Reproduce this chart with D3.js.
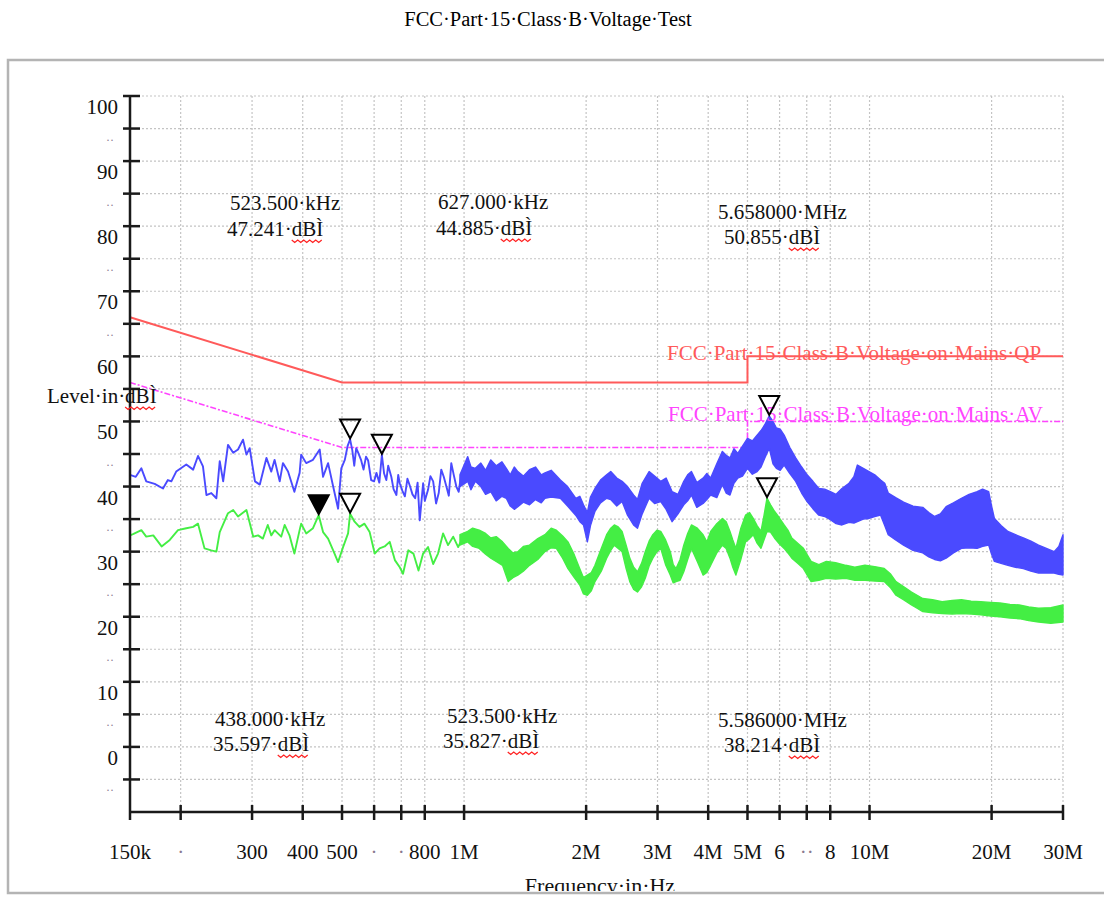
<!DOCTYPE html>
<html>
<head>
<meta charset="utf-8">
<script src="https://cdn.jsdelivr.net/npm/d3@7"></script>
<style>
  body { margin: 0; background: #fff; }
  svg { display: block; }
  text { font-family: "Liberation Serif", "Times New Roman", serif; }
</style>
</head>
<body>
<svg id="chart" width="1104" height="898"></svg>
<script>
// ---------------- data ----------------
const chartTitle = "FCC·Part·15·Class·B·Voltage·Test";
const yAxisTitle = "Level·in·dBÌ";
const xAxisTitle = "Frequency·in·Hz";

const yTickValues = [0, 10, 20, 30, 40, 50, 60, 70, 80, 90, 100];
const yMinorValues = [-5, 5, 15, 25, 35, 45, 55, 65, 75, 85, 95];

const xTickFreqs  = [150e3, 200e3, 300e3, 400e3, 500e3, 600e3, 700e3, 800e3, 1e6, 2e6, 3e6, 4e6, 5e6, 6e6, 7e6, 8e6, 10e6, 20e6, 30e6];
const xTickLabels = ["150k", "·", "300", "400", "500", "·", "·", "800", "1M", "2M", "3M", "4M", "5M", "6", "··", "8", "10M", "20M", "30M"];

// limit lines [Hz, dBµV]
const qpLimit = [[150e3, 66], [500e3, 56], [5e6, 56], [5e6, 60], [30e6, 60]];
const avLimit = [[150e3, 56], [500e3, 46], [5e6, 46], [5e6, 50], [30e6, 50]];
const qpLimitName = "FCC·Part·15·Class·B·Voltage·on·Mains·QP";
const avLimitName = "FCC·Part·15·Class·B·Voltage·on·Mains·AV";

// peak detector sweep below 1 MHz [kHz, dBµV]
const qpSweepLow = [
  [150,41.8],[155,41.5],[160,42.8],[164.5,40.8],[172.6,40.4],[180.9,39.7],[186,41.0],[189.7,40.8],
  [195,42.3],[206.5,43.4],[214.7,42.6],[220.7,44.7],[227,43.1],[231.5,38.7],[238,39.0],[245,38.2],
  [249.7,43.9],[254.6,40.8],[261.7,46.4],[269.5,45.2],[277,45.7],[285,47.2],[290.6,44.9],[296,45.9],
  [305,40.8],[313.5,40.3],[325.5,44.4],[334.6,42.3],[341,44.1],[351,40.8],[357.5,43.6],[368,42.3],
  [381.5,39.2],[393,42.1],[396.5,44.9],[408,43.6],[424,44.1],[440.5,45.7],[449,41.5],[462,43.6],
  [475.5,40.0],[489,36.6],[498,42.8],[508,44.1],[516,46.2],[523.5,47.24],[530,45.6],[536,43.2],
  [542,45.9],[548,45.2],[557,44.1],[565,42.6],[573,44.6],[580,44.0],[590,41.0],[600,40.8],[608,42.1],
  [618,40.6],[627,44.885],[635,42.0],[643,41.0],[650,43.2],[661.5,41.5],[670,39.6],[681,38.7],
  [688,41.8],[694,40.5],[705,39.3],[714.5,38.5],[725,41.2],[736,40.0],[746,38.8],[757.5,38.2],
  [768,40.6],[777.5,34.8],[792.5,40.5],[800,37.8],[815,39.5],[826,41.6],[839,40.8],[853,37.4],
  [866,39.0],[878.5,42.6],[891,41.5],[904.5,40.0],[917,38.6],[930,43.6],[943,41.8],[957,40.0],
  [970,39.2],[985,42.1]
];

// peak detector band above 1 MHz [MHz, upper dBµV, lower dBµV]
const qpSweepBand = [
  [0.977,41.8,40.0],[1.021,44.6,40.8],[1.04,43.0,39.5],[1.066,42.8,40.8],[1.10,43.6,40.0],[1.13,42.5,38.8],
  [1.164,44.1,39.2],[1.20,43.2,37.8],[1.24,43.8,38.5],[1.271,42.8,38.2],[1.30,41.8,37.0],[1.33,43.0,36.5],
  [1.357,42.3,36.9],[1.40,41.6,37.6],[1.450,42.6,37.2],[1.50,43.0,38.0],[1.55,41.8,37.5],[1.583,42.1,38.2],
  [1.64,42.5,38.4],[1.728,41.0,38.2],[1.80,40.0,37.0],[1.885,38.2,35.6],[1.93,38.5,34.6],[1.970,37.2,34.1],
  [2.014,36.0,31.5],[2.05,38.4,34.0],[2.103,39.7,36.2],[2.17,41.0,37.5],[2.247,41.8,38.2],[2.30,42.3,38.0],
  [2.38,41.3,37.0],[2.453,40.8,37.7],[2.53,40.0,35.6],[2.618,38.7,34.1],[2.677,38.0,33.6],[2.75,40.5,35.8],
  [2.860,42.3,38.2],[2.95,41.6,37.4],[3.055,40.8,37.7],[3.15,41.3,36.5],[3.259,39.2,34.6],[3.37,38.8,35.8],
  [3.482,40.8,37.2],[3.56,41.8,37.8],[3.637,42.3,38.7],[3.75,40.6,36.8],[3.886,41.3,37.4],[3.97,42.0,38.0],
  [4.057,41.3,38.7],[4.20,43.5,38.3],[4.336,45.4,40.3],[4.43,44.8,39.0],[4.527,44.4,38.7],[4.63,45.8,40.5],
  [4.733,45.1,41.3],[4.86,46.2,41.6],[5.000,47.4,42.8],[5.14,47.0,41.9],[5.281,47.9,42.3],[5.40,48.6,43.0],
  [5.517,49.5,44.4],[5.658,50.855,45.9],[5.78,50.0,43.5],[5.892,49.0,42.8],[6.02,48.8,42.5],[6.157,47.9,43.3],
  [6.36,46.0,42.0],[6.574,44.4,40.8],[6.80,43.0,39.0],[7.015,41.8,37.7],[7.25,40.8,36.6],[7.499,39.7,35.6],
  [7.75,39.6,35.4],[8.006,39.2,34.9],[8.27,38.8,34.3],[8.550,39.7,34.1],[8.90,40.5,34.5],[9.15,41.5,34.4],
  [9.334,43.3,34.6],[9.65,42.8,35.0],[9.97,42.3,35.1],[10.3,41.8,35.4],[10.65,41.0,35.6],[10.9,40.5,34.0],
  [11.12,39.0,32.6],[11.6,38.3,31.8],[12.13,37.6,31.0],[12.8,37.0,30.2],[13.53,36.8,29.8],[14.0,36.0,29.2],
  [14.47,35.4,28.8],[14.95,35.8,28.6],[15.45,36.9,29.0],[16.1,37.5,29.8],[16.85,38.2,30.5],[17.6,38.8,30.6],
  [18.42,39.2,30.5],[19.0,39.6,30.8],[19.67,39.2,31.0],[20.0,37.0,29.6],[20.32,35.1,28.5],[21.1,34.0,28.2],
  [21.94,33.1,27.9],[22.9,32.6,27.6],[23.95,32.1,27.4],[25.0,31.6,27.0],[26.11,31.0,26.7],[27.3,30.5,26.7],
  [28.53,30.0,26.7],[29.3,30.8,26.5],[30.0,32.6,26.4]
];

// average detector sweep below 1 MHz [kHz, dBµV]
const avSweepLow = [
  [150,32.5],[152.6,32.7],[160,33.3],[164.5,32.3],[171.2,32.5],[179.5,30.8],[188,31.8],[197,33.3],
  [206.5,33.6],[214.7,33.8],[220.7,34.3],[229,30.5],[238,30.2],[245,30.0],[249.7,33.0],[261.7,35.9],
  [269.5,36.4],[277,35.4],[290.6,36.4],[302,32.3],[310.5,32.5],[319,32.0],[328,34.1],[334.6,32.5],
  [341,33.3],[354,32.3],[361,34.1],[371,32.5],[381.5,29.7],[393,33.3],[396.5,34.3],[408,32.8],
  [424,33.6],[438,35.597],[449,33.0],[462,32.0],[475.5,30.2],[489,28.4],[503,30.7],[517.5,32.8],
  [523.5,35.827],[537,34.6],[552,33.8],[568,34.3],[585,33.0],[602,29.7],[619,30.5],[637,30.8],
  [655.5,31.5],[675,28.7],[694,27.6],[707,26.6],[728.5,30.2],[750,29.7],[772,27.1],[792.5,29.7],
  [815,30.7],[839,28.1],[862.5,29.7],[887.5,32.8],[913,31.0],[940,32.3],[967,30.7],[995,32.3]
];

// average detector band above 1 MHz [MHz, upper dBµV, lower dBµV]
const avSweepBand = [
  [0.977,32.6,31.0],[1.021,33.1,31.5],[1.05,33.6,30.8],[1.090,33.3,30.5],[1.13,32.8,29.6],[1.164,32.1,29.0],
  [1.20,32.3,28.5],[1.244,31.5,27.9],[1.285,30.5,25.4],[1.32,29.8,26.0],[1.357,30.0,26.4],[1.40,30.8,27.0],
  [1.450,31.0,27.9],[1.52,32.0,28.8],[1.583,32.6,30.0],[1.64,33.6,30.6],[1.689,33.3,30.5],[1.75,32.4,29.0],
  [1.804,31.5,27.4],[1.87,29.5,26.0],[1.928,27.4,24.9],[1.97,26.0,23.5],[2.014,26.4,23.3],[2.06,26.8,24.0],
  [2.103,27.9,25.4],[2.18,30.5,27.0],[2.247,32.6,29.0],[2.30,33.6,30.2],[2.347,34.1,31.0],[2.40,33.8,30.5],
  [2.453,33.1,30.0],[2.51,31.0,27.4],[2.563,29.0,25.4],[2.62,27.6,24.2],[2.677,26.9,23.8],[2.74,28.2,24.6],
  [2.798,30.0,25.9],[2.86,31.6,27.8],[2.921,32.6,29.0],[2.99,33.3,30.0],[3.055,33.1,30.5],[3.14,31.8,28.0],
  [3.225,30.0,26.4],[3.28,28.0,25.2],[3.333,27.4,25.4],[3.41,28.8,25.6],[3.482,31.0,26.9],[3.56,32.8,28.8],
  [3.637,34.1,30.5],[3.76,33.6,28.5],[3.886,32.6,26.4],[3.97,31.5,26.8],[4.057,33.1,27.9],[4.20,34.3,29.8],
  [4.336,35.1,31.0],[4.43,34.6,30.5],[4.527,33.1,29.0],[4.60,31.8,27.6],[4.681,30.5,26.4],[4.81,33.5,28.7],
  [4.945,35.6,31.5],[5.06,36.0,32.0],[5.166,35.1,32.6],[5.28,34.0,31.3],[5.398,33.1,30.5],[5.49,35.5,31.8],
  [5.586,38.214,33.1],[5.70,37.2,33.0],[5.828,36.2,32.1],[5.99,35.2,31.2],[6.157,34.1,30.5],[6.29,33.3,29.8],
  [6.431,32.1,29.0],[6.65,31.3,28.2],[6.869,30.5,27.4],[7.02,29.5,26.4],[7.177,28.5,25.4],[7.50,28.0,25.6],
  [7.826,28.5,25.9],[8.25,28.3,25.8],[8.732,27.9,25.9],[9.20,27.6,25.6],[9.743,27.9,25.6],[10.3,27.7,25.5],
  [10.87,27.4,25.4],[11.25,26.6,24.5],[11.62,25.4,23.3],[12.15,24.6,22.6],[12.69,23.8,21.8],[13.1,23.3,21.3],
  [13.53,22.8,20.8],[14.3,22.6,20.6],[15.10,22.3,20.5],[16.0,22.5,20.4],[16.85,22.6,20.5],[17.8,22.4,20.4],
  [18.80,22.3,20.3],[19.9,22.2,20.1],[20.97,22.1,20.0],[22.2,21.9,19.8],[23.40,21.8,19.7],[24.7,21.5,19.4],
  [26.11,21.3,19.2],[28.0,21.4,19.0],[30.0,21.8,19.2]
];

// marker readouts [Hz, dBµV]
const qpMarkerFreqs  = [523.5e3, 627e3, 5.658e6];
const qpMarkerLevels = [47.241, 44.885, 50.855];
const avMarkerFreqs  = [438e3, 523.5e3, 5.586e6];
const avMarkerLevels = [35.597, 35.827, 38.214];
const avActiveMarker = 0;

// ---------------- layout ----------------
const W = 1104, H = 898;
const plot = { left: 130, right: 1063, top: 96, bottom: 812 };
const colors = {
  qp: "#4a4aff", av: "#44ee44", qpLimit: "#ff5a5a", avLimit: "#ff44ff",
  grid: "#c4c4c4", axis: "#1a1a1a", frame: "#b4b4b4", squiggle: "#ff2020"
};
const font = 21;
// readout text anchor points (left, baseline of the frequency line, left of level line, baseline)
const qpReadoutPos = [[230, 210, 227, 236], [438, 209, 436, 235], [718, 219, 724, 244]];
const avReadoutPos = [[215, 726, 213, 751], [447, 723, 443, 748], [718, 727, 724, 752]];

const svg = d3.select("#chart");
svg.append("rect").attr("width", W).attr("height", H).attr("fill", "#fff");

const x = d3.scaleLog().domain([150e3, 30e6]).range([plot.left, plot.right]);
const y = d3.scaleLinear().domain([-10, 100]).range([plot.bottom, plot.top]);

// outer frame
svg.append("rect")
  .attr("x", 8).attr("y", 60).attr("width", W).attr("height", 833)
  .attr("fill", "none").attr("stroke", colors.frame).attr("stroke-width", 2.5);

// title
svg.append("text")
  .attr("x", 548).attr("y", 26).attr("text-anchor", "middle")
  .attr("font-size", 20.5).attr("fill", "#000").text(chartTitle);

// ---- grid ----
const grid = svg.append("g");
grid.selectAll("line.h").data(yTickValues.concat(yMinorValues)).join("line")
  .attr("x1", plot.left).attr("x2", plot.right)
  .attr("y1", d => y(d)).attr("y2", d => y(d))
  .attr("stroke", colors.grid).attr("stroke-width", 1.2).attr("stroke-dasharray", "2,2");
grid.selectAll("line.v").data(xTickFreqs.slice(1)).join("line")
  .attr("x1", d => x(d)).attr("x2", d => x(d))
  .attr("y1", plot.top).attr("y2", plot.bottom)
  .attr("stroke", colors.grid).attr("stroke-width", 1.2).attr("stroke-dasharray", "2,2");

// ---- limit lines ----
const limitLine = d3.line().x(d => x(d[0])).y(d => y(d[1]));
svg.append("path").attr("d", limitLine(qpLimit))
  .attr("fill", "none").attr("stroke", colors.qpLimit).attr("stroke-width", 2);
svg.append("path").attr("d", limitLine(avLimit))
  .attr("fill", "none").attr("stroke", colors.avLimit).attr("stroke-width", 1.6)
  .attr("stroke-dasharray", "6,2,2,2");

// ---- traces ----
function drawTrace(low, band, color) {
  const g = svg.append("g");
  const line = d3.line().x(d => x(d[0] * 1e3)).y(d => y(d[1]));
  g.append("path").attr("d", line(low))
    .attr("fill", "none").attr("stroke", color).attr("stroke-width", 1.9)
    .attr("stroke-linejoin", "round");
  const area = d3.area().x(d => x(d[0] * 1e6)).y0(d => y(d[2])).y1(d => y(d[1]));
  g.append("path").attr("d", area(band))
    .attr("fill", color).attr("stroke", color).attr("stroke-width", 1.4)
    .attr("stroke-linejoin", "round");
}
drawTrace(avSweepLow, avSweepBand, colors.av);
drawTrace(qpSweepLow, qpSweepBand, colors.qp);

// ---- axes ----
const axes = svg.append("g").attr("stroke", colors.axis).attr("stroke-width", 2.5);
axes.append("line").attr("x1", plot.left).attr("x2", plot.left)
  .attr("y1", plot.top).attr("y2", plot.bottom + 8);
axes.append("line").attr("x1", plot.left).attr("x2", plot.right)
  .attr("y1", plot.bottom).attr("y2", plot.bottom);
axes.selectAll("line.yt").data(yTickValues.concat(yMinorValues)).join("line")
  .attr("x1", plot.left - 7).attr("x2", plot.left + 10)
  .attr("y1", d => y(d)).attr("y2", d => y(d));
axes.selectAll("line.xt").data(xTickFreqs.slice(1)).join("line")
  .attr("x1", d => x(d)).attr("x2", d => x(d))
  .attr("y1", plot.bottom - 7).attr("y2", plot.bottom + 8);

// y tick labels
svg.selectAll("text.yl").data(yTickValues).join("text")
  .attr("x", 118).attr("y", d => y(d) + 18).attr("text-anchor", "end")
  .attr("font-size", font).attr("fill", "#111").text(d => d);
// minor dots (the one under the axis title is covered by it)
svg.selectAll("text.ym").data(yMinorValues.filter(v => v !== 55)).join("text")
  .attr("x", 110).attr("y", d => y(d) + 15).attr("text-anchor", "middle")
  .attr("font-size", 12).attr("fill", "#8a7a90").text("··");

// x tick labels
svg.selectAll("text.xl").data(xTickFreqs).join("text")
  .attr("x", d => x(d)).attr("y", 859).attr("text-anchor", "middle")
  .attr("font-size", font)
  .attr("fill", (d, i) => xTickLabels[i].startsWith("·") ? "#8a7a90" : "#111")
  .text((d, i) => xTickLabels[i]);

// red proofing squiggle under a word of a text element
function squiggle(textNode, word) {
  const s = textNode.textContent;
  const i = s.lastIndexOf(word);
  if (i < 0) return;
  const x0 = textNode.getStartPositionOfChar(i).x;
  const x1 = textNode.getEndPositionOfChar(i + word.length - 1).x;
  const by = textNode.getStartPositionOfChar(i).y + 4;
  const pts = [];
  for (let px = x0, k = 0; px <= x1; px += 3, k++) pts.push([px, by + (k % 2 ? 2.5 : 0)]);
  svg.append("path").attr("d", d3.line()(pts))
    .attr("fill", "none").attr("stroke", colors.squiggle).attr("stroke-width", 1.2);
}

// axis titles
const yt = svg.append("text").attr("x", 47).attr("y", 403)
  .attr("font-size", font).attr("fill", "#111").text(yAxisTitle);
squiggle(yt.node(), "dBÌ");

svg.append("clipPath").attr("id", "xtClip").append("rect")
  .attr("x", 0).attr("y", 0).attr("width", W).attr("height", 891);
svg.append("text").attr("x", 600).attr("y", 893).attr("text-anchor", "middle")
  .attr("clip-path", "url(#xtClip)")
  .attr("font-size", 22).attr("fill", "#111").text(xAxisTitle);

// limit names
svg.append("text").attr("x", 667).attr("y", 360)
  .attr("font-size", font).attr("fill", colors.qpLimit).text(qpLimitName);
svg.append("text").attr("x", 668).attr("y", 421)
  .attr("font-size", font).attr("fill", colors.avLimit).text(avLimitName);

// ---- markers ----
function fmtFreq(f) {
  return f >= 1e6 ? (f / 1e6).toFixed(6) + "·MHz" : (f / 1e3).toFixed(3) + "·kHz";
}
function drawMarkers(freqs, levels, pos, active) {
  freqs.forEach((f, i) => {
    const mx = x(f), my = y(levels[i]);
    svg.append("path")
      .attr("d", `M${mx - 10},${my - 20}L${mx + 10},${my - 20}L${mx},${my - 1}Z`)
      .attr("fill", i === active ? "#000" : "none")
      .attr("stroke", "#000").attr("stroke-width", 2).attr("stroke-linejoin", "miter");
    const p = pos[i];
    svg.append("text").attr("x", p[0]).attr("y", p[1])
      .attr("font-size", font).attr("fill", "#111").text(fmtFreq(f));
    const t = svg.append("text").attr("x", p[2]).attr("y", p[3])
      .attr("font-size", font).attr("fill", "#111").text(levels[i].toFixed(3) + "·dBÌ");
    squiggle(t.node(), "dBÌ");
  });
}
drawMarkers(qpMarkerFreqs, qpMarkerLevels, qpReadoutPos, -1);
drawMarkers(avMarkerFreqs, avMarkerLevels, avReadoutPos, avActiveMarker);
</script>
</body>
</html>
